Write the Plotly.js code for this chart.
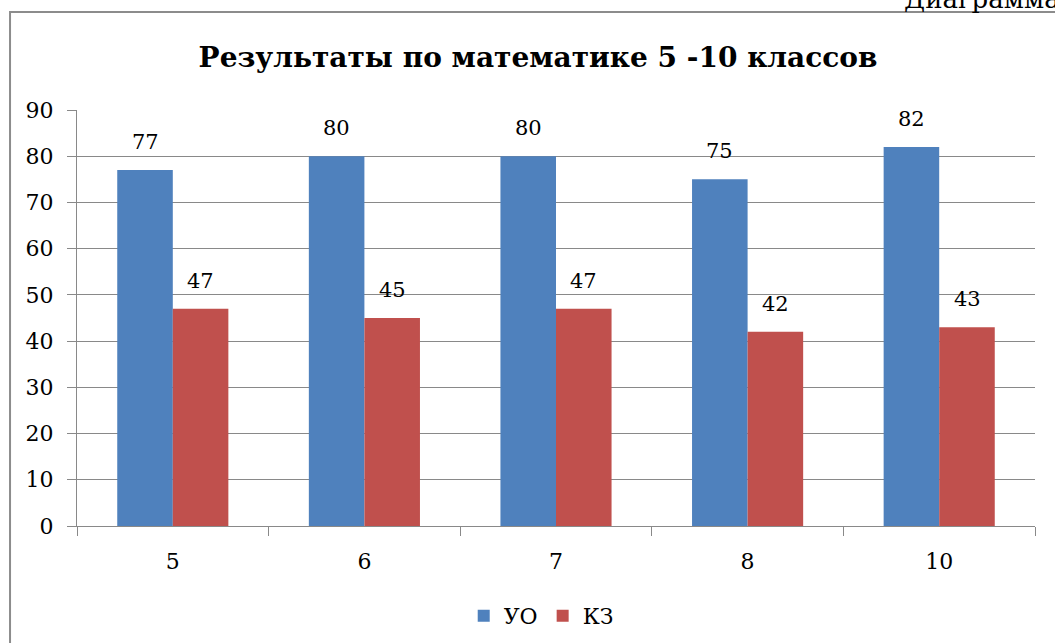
<!DOCTYPE html>
<html>
<head>
<meta charset="utf-8">
<script src="https://cdn.plot.ly/plotly-3.0.1.min.js"></script>
<style>
  html, body { margin: 0; padding: 0; background: #ffffff; }
  #chart { width: 1055px; height: 643px; }
</style>
</head>
<body>
<div id="chart"></div>
<script>
const categories = ['5', '6', '7', '8', '10'];
const uoValues = [77, 80, 80, 75, 82];
const kzValues = [47, 45, 47, 42, 43];
const seriesNames = ['УО', 'КЗ'];
const yTicks = [0, 10, 20, 30, 40, 50, 60, 70, 80, 90];

const BLUE = '#4F81BD';
const RED = '#C0504D';
const GRID = '#898989';
const SERIF = 'DejaVu Serif, Liberation Serif, serif';

const traces = [
  { type: 'bar', name: seriesNames[0], x: categories, y: uoValues,
    marker: { color: BLUE }, hoverinfo: 'x+y+name' },
  { type: 'bar', name: seriesNames[1], x: categories, y: kzValues,
    marker: { color: RED }, hoverinfo: 'x+y+name' }
];

const annotations = [];
const BAR_HALF = 27.8;
categories.forEach((c, i) => {
  // on a category axis an annotation's x is the category index
  annotations.push({ x: i, y: uoValues[i], xref: 'x', yref: 'y', text: String(uoValues[i]),
    showarrow: false, xshift: -BAR_HALF, yshift: 14, yanchor: 'bottom',
    font: { family: SERIF, size: 21, color: '#000' } });
  annotations.push({ x: i, y: kzValues[i], xref: 'x', yref: 'y', text: String(kzValues[i]),
    showarrow: false, xshift: BAR_HALF, yshift: 14, yanchor: 'bottom',
    font: { family: SERIF, size: 21, color: '#000' } });
});
// cut-off document caption above the chart frame
annotations.push({ xref: 'paper', yref: 'paper', x: 0.861, y: 1.226, xanchor: 'left', yanchor: 'bottom',
  text: 'Диаграмма 1', showarrow: false, font: { family: SERIF, size: 26, color: '#000' } });

const layout = {
  width: 1055, height: 643,
  margin: { l: 77, r: 20, t: 110, b: 117 },
  paper_bgcolor: '#ffffff', plot_bgcolor: '#ffffff',
  title: { text: '<b>Результаты по математике 5 -10 классов</b>',
    font: { family: SERIF, size: 28, color: '#000' },
    x: 0.51, xanchor: 'center', y: 0.911, yanchor: 'middle', xref: 'container', yref: 'container' },
  barmode: 'group', bargap: 0.42, bargroupgap: 0,
  xaxis: { type: 'category', range: [-0.5, categories.length - 0.5], autorange: false, automargin: false,
    tickson: 'boundaries', ticks: 'outside', ticklen: 9,
    tickcolor: GRID, showline: true, linecolor: GRID, linewidth: 1, showgrid: false,
    tickfont: { family: SERIF, size: 22, color: '#000' }, ticklabelstandoff: 16 },
  yaxis: { range: [0, 90], autorange: false, automargin: false, tickvals: yTicks, ticks: 'outside', ticklen: 9, tickcolor: GRID,
    showline: true, linecolor: GRID, linewidth: 1, showgrid: true, gridcolor: GRID, gridwidth: 1,
    zeroline: false, tickfont: { family: SERIF, size: 22, color: '#000' }, ticklabelstandoff: 9 },
  showlegend: true,
  legend: { orientation: 'h', xref: 'container', yref: 'container', x: 0.513, xanchor: 'center',
    y: 0.042, yanchor: 'middle',
    font: { family: SERIF, size: 22, color: '#000' }, itemwidth: 30, traceorder: 'normal' },
  annotations: annotations,
  shapes: [
    { type: 'rect', xref: 'paper', yref: 'paper', x0: -0.0699, x1: 1.03, y0: -0.35, y1: 1.2356,
      line: { color: '#8c8c8c', width: 2 }, fillcolor: 'rgba(0,0,0,0)', layer: 'below' }
  ]
};

Plotly.newPlot('chart', traces, layout, { displayModeBar: false, staticPlot: true });
</script>
</body>
</html>
